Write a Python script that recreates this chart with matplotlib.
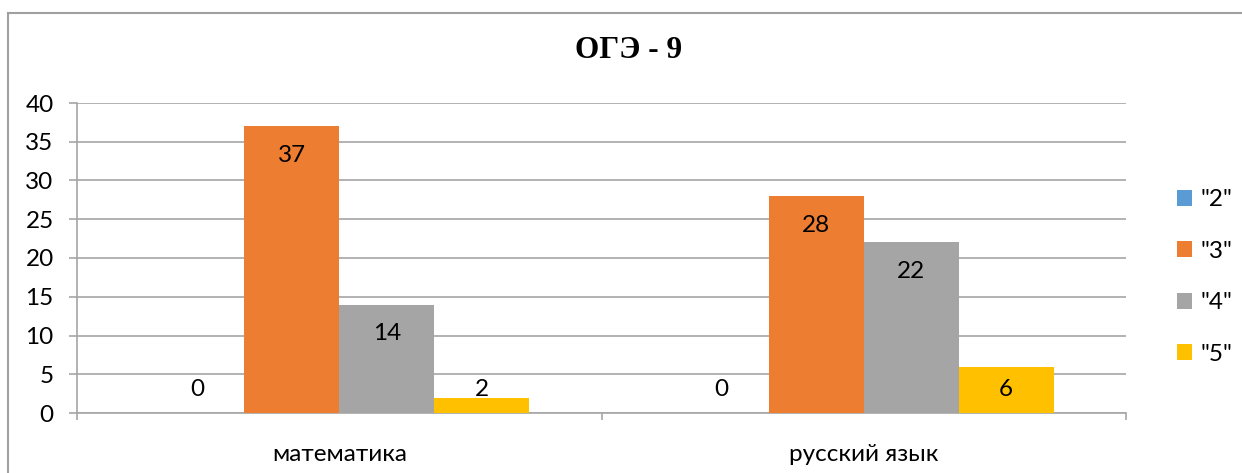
import numpy as np
import matplotlib.pyplot as plt
from matplotlib.lines import Line2D

# data
categories = ["математика", "русский язык"]
series_names = ['"2"', '"3"', '"4"', '"5"']
grade_2 = [0, 0]
grade_3 = [37, 28]
grade_4 = [14, 22]
grade_5 = [2, 6]
colors = ["#5B9BD5", "#ED7D31", "#A5A5A5", "#FFC000"]

W, H = 1242, 473
fig = plt.figure(figsize=(W / 100, H / 100), dpi=100)
plt.rcParams["font.family"] = ["Lato", "DejaVu Sans"]
fs = 17.5

# plot area in pixels: x 77..1126, y 103..413
ax = fig.add_axes([77 / W, 1 - 413 / H, (1126 - 77) / W, (413 - 103) / H])

grid_col = "#A6A6A6"
x = np.arange(len(categories))
bw = 0.181
all_series = [grade_2, grade_3, grade_4, grade_5]
for i, (vals, name, col) in enumerate(zip(all_series, series_names, colors)):
    pos = x + (i - 1.5) * bw
    ax.bar(pos, vals, width=bw, color=col, label=name, zorder=3)
    for px_, v in zip(pos, vals):
        ly = max(v - 3.8, 3.0)
        ax.text(px_, ly, str(v), ha="center", va="center", fontsize=fs,
                color="black", zorder=4)

ax.set_xlim(-0.5, len(categories) - 0.5)
ax.set_ylim(0, 40)
ax.set_yticks(np.arange(0, 41, 5))
ax.yaxis.grid(True, color=grid_col, linewidth=1.2, zorder=0)
ax.set_axisbelow(True)

ax.set_xticks(x)
ax.set_xticklabels(categories, fontsize=fs)
ax.set_xticks(np.arange(-0.5, len(categories), 1.0), minor=True)
ax.tick_params(axis="x", which="major", length=0, pad=22)
ax.tick_params(axis="x", which="minor", length=5, width=1.2, color=grid_col,
               direction="out")
ax.tick_params(axis="y", length=5.8, width=1.2, color=grid_col, pad=11,
               labelsize=fs)

for s in ["top", "right"]:
    ax.spines[s].set_visible(False)
for s in ["left", "bottom"]:
    ax.spines[s].set_color(grid_col)
    ax.spines[s].set_linewidth(1.2)

# title
fig.text(629 / W, 1 - 51 / H, "ОГЭ - 9", ha="center", va="center",
         fontsize=22.5, fontweight="bold", family=["Liberation Serif"])

# legend
fig.legend(loc="center left", bbox_to_anchor=(1165 / W, 1 - 277 / H),
           frameon=False, fontsize=fs, handlelength=0.62, handleheight=0.62,
           handletextpad=0.35, labelspacing=1.25, borderpad=0)

# outer chart frame (top and left visible)
frame_col = "#A0A0A0"
fig.add_artist(Line2D([8 / W, 1.0], [1 - 13 / H, 1 - 13 / H],
                      transform=fig.transFigure, color=frame_col, linewidth=1.5))
fig.add_artist(Line2D([8 / W, 8 / W], [0.0, 1 - 13 / H],
                      transform=fig.transFigure, color=frame_col, linewidth=1.5))

fig.savefig("out.png", dpi=100)
